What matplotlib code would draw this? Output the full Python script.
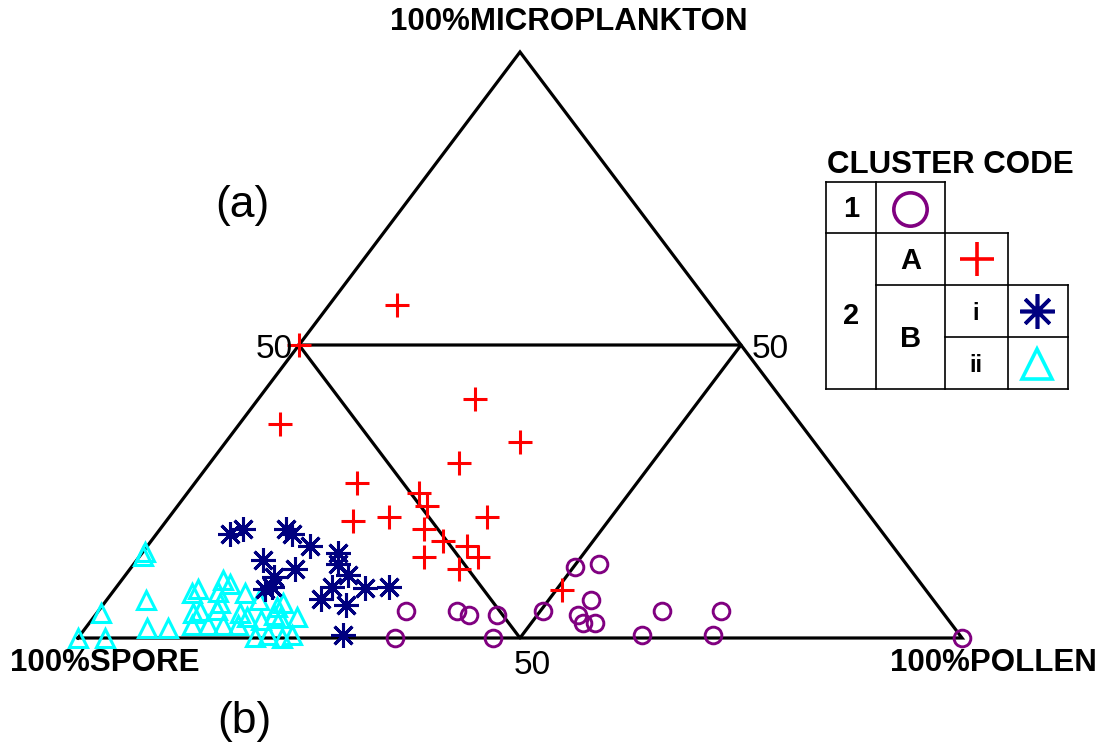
import matplotlib
matplotlib.use("Agg")
import matplotlib.pyplot as plt
import numpy as np

plt.rcParams['font.family'] = ['Liberation Sans', 'DejaVu Sans']

# ---- data: (microplankton %, pollen %); spore % = 100 - micro - pollen ----
c1_micro  = [4.6, 0.0, 4.6, 3.9, 3.9, 0.0, 4.6, 12.1, 12.6, 6.5, 3.9, 2.6, 2.6, 0.5, 4.6, 4.6, 0.5, 0.0]
c1_pollen = [34.8, 35.9, 40.6, 42.3, 45.4, 46.9, 50.3, 50.2, 52.6, 54.8, 54.6, 55.8, 57.2, 63.6, 63.8, 70.4, 71.6, 100.0]

c2a_micro  = [56.8, 50.0, 36.5, 40.8, 33.4, 29.9, 26.5, 24.7, 22.5, 20.0, 20.6, 20.6, 18.6, 16.6, 15.7, 13.8, 13.8, 11.8, 8.2]
c2a_pollen = [7.7, 0.0, 4.6, 24.5, 33.3, 28.2, 18.3, 26.2, 28.2, 21.1, 24.9, 36.0, 29.8, 33.0, 36.2, 38.3, 32.2, 37.2, 50.7]

c2bi_micro  = [17.7, 18.6, 18.6, 17.7, 15.7, 13.3, 11.8, 10.4, 14.5, 12.6, 10.8, 8.7, 8.4, 8.7, 8.5, 8.7, 6.7, 5.6, 0.5]
c2bi_pollen = [8.4, 9.4, 14.2, 15.4, 18.4, 14.3, 18.6, 17.0, 22.2, 23.1, 25.1, 17.6, 17.0, 24.4, 28.2, 30.8, 24.1, 27.5, 29.7]

c2bii_micro  = [14.0, 14.7, 4.3, 0.0, 0.0, 6.5, 1.7, 1.7, 7.7, 8.4, 9.9, 9.2, 7.9, 7.7, 6.5, 4.3, 4.6, 4.8,
                6.0, 4.3, 3.6, 2.2, 2.2, 2.2, 2.2, 0.2, 0.5, 0.0, 0.5, 5.3, 6.0, 3.9, 3.6, 3.4, 3.1]
c2bii_pollen = [0.3, 0.2, 0.5, 0.0, 3.0, 4.4, 7.0, 9.3, 9.0, 9.4, 11.5, 12.6, 11.9, 15.0, 17.2, 10.9, 11.5, 13.3,
                13.1, 16.2, 17.3, 11.8, 13.6, 15.3, 17.0, 19.9, 21.2, 23.1, 24.0, 19.9, 20.2, 20.2, 23.0, 21.2, 19.1]

corner_labels = ['100%MICROPLANKTON', '100%SPORE', '100%POLLEN']
legend_codes = ['1', '2', 'A', 'B', 'i', 'ii']

PURPLE, RED, NAVY, CYAN = '#800080', '#ff0000', '#000080', '#00ffff'


def tern(micro, pollen):
    m = np.asarray(micro) / 100.0
    p = np.asarray(pollen) / 100.0
    return p + m / 2.0, m


W, H = 1102, 746
fig = plt.figure(figsize=(W / 100, H / 100), dpi=100)

# triangle axes: data (0,0)->(78,638)px, (1,1)->(962,52)px
ax = fig.add_axes([78 / W, (H - 638) / H, 884 / W, 586 / H])
ax.set_xlim(0, 1)
ax.set_ylim(0, 1)
ax.axis('off')

lw = 2.3
ax.plot([0, 1, 0.5, 0], [0, 0, 1, 0], color='black', lw=lw, clip_on=False, solid_joinstyle='miter')
ax.plot([0.25, 0.75, 0.5, 0.25], [0.5, 0.5, 0, 0.5], color='black', lw=lw, clip_on=False)

x, y = tern(c2bii_micro, c2bii_pollen)
ax.plot(x, y, ls='none', marker='^', ms=13, mfc='none', mec=CYAN, mew=2.2, clip_on=False)
x, y = tern(c2bi_micro, c2bi_pollen)
ax.plot(x, y, ls='none', marker=(8, 2, 0), ms=18, mec=NAVY, mew=2.2, clip_on=False)
x, y = tern(c1_micro, c1_pollen)
ax.plot(x, y, ls='none', marker='o', ms=12, mfc='none', mec=PURPLE, mew=2.1, clip_on=False)
x, y = tern(c2a_micro, c2a_pollen)
ax.plot(x, y, ls='none', marker='+', ms=17, mec=RED, mew=2.2, clip_on=False)

# overlay axes in pixel coordinates for text and legend table
ov = fig.add_axes([0, 0, 1, 1])
ov.set_xlim(0, W)
ov.set_ylim(H, 0)
ov.axis('off')
ov.patch.set_alpha(0)

ov.text(569, 22, corner_labels[0], ha='center', va='center', fontsize=22.5, fontweight='bold')
ov.text(10, 663, corner_labels[1], ha='left', va='center', fontsize=22.5, fontweight='bold')
ov.text(1097, 663, corner_labels[2], ha='right', va='center', fontsize=22.5, fontweight='bold')
ov.text(293, 349, '50', ha='right', va='center', fontsize=24)
ov.text(752, 349, '50', ha='left', va='center', fontsize=24)
ov.text(532, 665, '50', ha='center', va='center', fontsize=24)
ov.text(242, 205, '(a)', ha='center', va='center', fontsize=32)
ov.text(244, 722, '(b)', ha='center', va='center', fontsize=32)

# legend table
ov.text(950, 165, 'CLUSTER CODE', ha='center', va='center', fontsize=22.5, fontweight='bold')
tl = 1.2
segs = [
    ((826, 945), (182, 182)),
    ((826, 1008), (233, 233)),
    ((876, 1068), (285, 285)),
    ((945, 1068), (337, 337)),
    ((826, 1068), (389, 389)),
    ((826, 826), (182, 389)),
    ((876, 876), (182, 389)),
    ((945, 945), (182, 389)),
    ((1008, 1008), (233, 389)),
    ((1068, 1068), (285, 389)),
]
for xs, ys in segs:
    ov.plot(xs, ys, color='black', lw=tl)

ov.text(851, 209, legend_codes[0], ha='center', va='center', fontsize=21, fontweight='bold')
ov.text(851, 316, legend_codes[1], ha='center', va='center', fontsize=21, fontweight='bold')
ov.text(911, 261, legend_codes[2], ha='center', va='center', fontsize=21, fontweight='bold')
ov.text(911, 339, legend_codes[3], ha='center', va='center', fontsize=21, fontweight='bold')
ov.text(976, 313, legend_codes[4], ha='center', va='center', fontsize=17, fontweight='bold')
ov.text(976, 366, legend_codes[5], ha='center', va='center', fontsize=17, fontweight='bold')

ov.plot([910], [209], marker='o', ms=24, mfc='none', mec=PURPLE, mew=2.6)
ov.plot([977], [259], marker='+', ms=24, mec=RED, mew=2.6)
ov.plot([1037], [311], marker=(8, 2, 0), ms=25, mec=NAVY, mew=2.6)
ov.plot([1037], [364], marker='^', ms=21, mfc='none', mec=CYAN, mew=2.6)

fig.savefig('out.png', dpi=100)
